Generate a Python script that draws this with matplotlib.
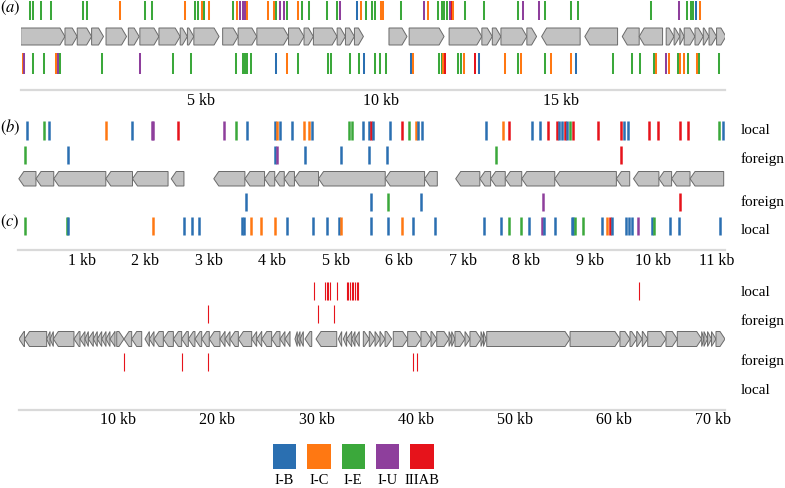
import matplotlib.pyplot as plt
from matplotlib.patches import Polygon, Rectangle

plt.rcParams['font.family'] = ['Liberation Serif', 'DejaVu Serif']
plt.rcParams['mathtext.fontset'] = 'stix'

# ---- legend / colour key ----
types = ['I-B', 'I-C', 'I-E', 'I-U', 'IIIAB']
codes = ['B', 'C', 'E', 'U', 'A']
type_colors = ['#2a6fb1', '#ff7812', '#3ba83b', '#8e3f9c', '#e6131b']
col = dict(zip(codes, type_colors))

# ---- panel (a): genes (kb), strand ----
a_gene_start = [0.00, 1.23, 1.57, 1.97, 2.37, 2.99, 3.31, 3.84, 4.43, 4.63, 4.81,
                5.61, 6.04, 6.56, 7.44, 7.87, 8.13, 8.79, 9.02, 9.27,
                10.23, 10.79, 11.90, 12.81, 13.10, 13.34, 14.06,
                14.47, 15.67, 16.71, 17.18,
                17.93, 18.15, 18.31, 18.43, 18.73, 18.96, 19.12, 19.33]
a_gene_end = [1.23, 1.57, 1.97, 2.30, 2.94, 3.29, 3.84, 4.43, 4.63, 4.81, 5.51,
              6.04, 6.56, 7.44, 7.87, 8.13, 8.79, 9.02, 9.27, 9.52,
              10.73, 11.76, 12.81, 13.10, 13.34, 14.06, 14.33,
              15.54, 16.58, 17.18, 17.83,
              18.15, 18.31, 18.43, 18.73, 18.96, 19.12, 19.33, 19.59]
a_gene_strand = [1] * 27 + [-1] * 4 + [1] * 8

# spacer hits above the genes (kb) and their subtype codes
a_top_kb = [0.25, 0.33, 0.56, 0.84, 1.72, 1.83,
            2.75, 3.44, 3.64, 4.56, 4.84, 4.92, 5.03, 5.09, 5.23, 5.91, 6.02,
            6.10, 6.17, 6.23, 6.29, 6.86, 7.04, 7.09, 7.20, 7.31, 7.40, 7.71,
            7.81, 8.01, 8.52, 8.79, 8.86, 9.33, 9.45, 9.59, 9.75, 9.84,
            10.01, 10.06, 10.57, 11.20, 11.31, 11.60, 11.69, 11.76, 11.83,
            11.93, 11.97, 12.01, 12.33, 12.87, 13.81, 13.94, 14.40,
            14.56, 15.28, 15.49, 17.51, 18.28, 18.50, 18.62, 18.68, 18.75, 18.87]
a_top_type = ("EEEEEE" "CEECEECECEC" "UUUCCCEUUEC" "EEEEUBCEEE" "CCEUCEEEE"
              "UACEEEUU" "EEEEUEEEBC")
a_bot_kb = [0.05, 0.09, 0.35, 0.66, 0.98, 1.04, 1.10,
            2.26, 3.32, 4.23, 4.74, 5.97, 6.18, 6.24, 6.29, 6.40,
            7.08, 7.41, 7.69, 8.54, 8.63, 9.15, 9.39, 9.53, 9.84, 9.98, 10.15,
            10.83, 10.90, 11.61, 11.69, 11.74, 11.79, 12.16, 12.23, 12.32,
            12.62, 12.73, 13.45, 13.80, 13.90, 14.56, 14.73, 15.28, 15.43,
            16.44, 16.97, 17.21, 17.60, 17.64, 17.93, 18.02, 18.27, 18.31, 18.43,
            18.54, 18.79, 18.83, 19.40]
a_bot_type = ("CUEECUE" "EUEEEEEEE" "BCEEEEEBEEE" "BCEECAEEC" "ABCECECCB"
              "EEEECUCECC" "ECEE")

# ---- panel (b): genes, all on the reverse strand ----
b_gene_start = [0.01, 0.28, 0.56, 1.38, 1.80, 2.41, 3.08, 3.57, 3.88, 4.04, 4.19,
                4.35, 4.73, 5.78, 6.40, 6.89, 7.27, 7.44, 7.67, 7.93, 8.45,
                9.42, 9.69, 10.09, 10.29, 10.58]
b_gene_end = [0.28, 0.56, 1.38, 1.80, 2.36, 2.61, 3.57, 3.88, 4.04, 4.19, 4.35,
              4.73, 5.78, 6.40, 6.60, 7.27, 7.44, 7.67, 7.93, 8.45, 9.42,
              9.63, 10.09, 10.29, 10.58, 11.11]

b_local_kb = [0.14, 0.40, 0.49, 1.39, 1.80, 2.10, 2.13, 2.51, 3.24, 3.43, 3.61,
              4.04, 4.08, 4.12, 4.31, 4.50, 4.58, 4.62, 5.21, 5.25, 5.43, 5.53,
              5.55, 5.58, 5.86, 6.05, 6.16, 6.26, 6.29, 6.36, 7.37, 7.63, 7.73,
              8.09, 8.22, 8.35, 8.49, 8.52, 8.56, 8.61, 8.64, 8.69, 8.74,
              9.13, 9.49, 9.54, 9.61, 9.94, 10.07, 10.42, 10.55, 11.04, 11.10]
b_local_type = ("BEBCBUUA" "UEB" "BCBBCCB" "EEBBAB" "BAECBB" "BCA"
                "BBAABBABEA" "AABBAAAA" "EB")
b_foreign_kb = [0.11, 0.79, 4.04, 4.07, 4.52, 5.09, 5.53, 5.81, 7.52, 9.49]
b_foreign_type = "EBBUBBBBEA"

# ---- panel (c), 11 kb locus below the genes ----
c_foreign_kb = [3.58, 5.55, 5.82, 6.35, 8.26, 10.42]
c_foreign_type = "BBEBUA"
c_local_kb = [0.10, 0.77, 0.79, 2.13, 2.61, 2.73, 2.85, 3.52, 3.55, 3.66, 3.82,
              4.04, 4.24, 4.65, 4.86, 5.05, 5.08, 5.55, 5.82, 6.05, 6.22, 6.57,
              7.34, 7.61, 7.73, 7.92, 8.05, 8.25, 8.28, 8.46, 8.72, 8.74, 8.77,
              8.89, 9.19, 9.28, 9.32, 9.35, 9.57, 9.62, 9.66, 9.76, 9.98, 10.01,
              10.27, 10.40, 11.05]
c_local_type = ("EEBC" "BBB" "BBCCC" "BBBBC" "BBCBB" "BBEEB" "UBBBBEE" "BCAB"
                "BBBU" "BEBBB")

# ---- panel (c), 70 kb locus (IIIAB only) ----
d_gene_start = [0.00, 0.55, 2.79, 3.13, 3.46, 5.54, 6.15, 6.65, 6.99, 7.49, 7.89,
                8.34, 8.77, 9.17, 9.85, 10.58, 11.36, 12.70, 13.14, 13.61, 14.55,
                15.56, 16.40, 17.07, 17.74, 18.42, 19.18, 20.26, 20.77, 21.27,
                22.11, 23.46, 23.96, 24.47, 25.47, 26.31, 26.81, 27.82, 28.05,
                28.33, 28.83, 29.94, 32.19, 32.69, 33.03, 33.54, 33.87,
                34.71, 35.31, 35.89, 36.39, 36.90, 37.73, 39.18, 40.52, 41.53,
                42.11, 43.35, 43.62, 43.95, 44.96, 45.46, 46.57, 46.82, 47.15,
                55.55, 60.58, 61.59, 62.27, 62.83, 63.38, 65.22, 66.36, 68.82,
                69.05, 69.41, 69.81, 70.26]
d_gene_end = [0.55, 2.79, 3.13, 3.46, 5.54, 6.15, 6.65, 6.99, 7.49, 7.89, 8.34,
              8.77, 9.17, 9.68, 10.58, 11.36, 12.37, 13.14, 13.61, 14.55, 15.56,
              16.40, 17.07, 17.74, 18.42, 19.18, 20.26, 20.77, 21.27, 22.11,
              23.46, 23.96, 24.47, 25.47, 26.31, 26.81, 27.32, 28.05, 28.33,
              28.66, 29.51, 32.03, 32.53, 33.03, 33.54, 33.87, 34.30,
              35.31, 35.89, 36.39, 36.90, 37.57, 39.18, 40.52, 41.53, 42.11,
              43.35, 43.62, 43.95, 44.96, 45.46, 46.57, 46.82, 47.08, 55.55,
              60.58, 61.59, 62.27, 62.83, 63.38, 65.22, 66.36, 68.82, 69.05,
              69.41, 69.81, 70.26, 71.17]
d_gene_strand = [-1] * 14 + [1] + [-1] * 32 + [1] * 31
d_local_kb = [29.77, 30.85, 31.02, 31.18, 31.35, 32.09, 33.03, 33.20, 33.37,
              33.54, 33.70, 33.87, 34.04, 34.20, 62.50]
d_foreign_top_kb = [19.02, 30.17, 31.75]
d_foreign_bot_kb = [10.62, 16.46, 19.02, 39.75, 40.09]

W, H = 785, 488
fig = plt.figure(figsize=(W / 100, H / 100), dpi=100)


def panel(left_px, top_px, bottom_px, px_per_kb, ticks):
    right_px = 725
    ax = fig.add_axes([left_px / W, 1 - bottom_px / H,
                       (right_px - left_px) / W, (bottom_px - top_px) / H])
    ax.set_xlim(0, (right_px - left_px) / px_per_kb)
    ax.set_ylim(bottom_px, top_px)
    for s in ['top', 'left', 'right']:
        ax.spines[s].set_visible(False)
    ax.spines['bottom'].set_color('#d9d9d9')
    ax.spines['bottom'].set_linewidth(1.6)
    ax.set_yticks([])
    ax.set_xticks(ticks)
    ax.set_xticklabels(['%d kb' % t for t in ticks])
    ax.tick_params(axis='x', length=0, pad=2, labelsize=11.5)
    ax.patch.set_alpha(0)
    return ax


def genes(ax, starts, ends, strands, y0, y1, head):
    yc = (y0 + y1) / 2
    for x0, x1, s in zip(starts, ends, strands):
        hl = min(head, x1 - x0)
        if s > 0:
            pts = [(x0, y0), (x1 - hl, y0), (x1, yc), (x1 - hl, y1), (x0, y1)]
        else:
            pts = [(x1, y0), (x0 + hl, y0), (x0, yc), (x0 + hl, y1), (x1, y1)]
        ax.add_patch(Polygon(pts, closed=True, facecolor='#c2c2c2',
                             edgecolor='#6a6a6a', linewidth=0.7))


def hits(ax, xs, kinds, y0, y1, lw):
    ax.vlines(xs, y0, y1, colors=[col[k] for k in kinds], linewidth=lw)


# (a)
ax_a = panel(20.7, 0, 90, 36.0, [5, 10, 15])
genes(ax_a, a_gene_start, a_gene_end, a_gene_strand, 28, 45, 5 / 36.0)
hits(ax_a, a_top_kb, a_top_type, 1, 20, 1.45)
hits(ax_a, a_bot_kb, a_bot_type, 53, 74, 1.45)

# (b) / (c) 11 kb
ax_b = panel(18.2, 115, 250, 63.5, list(range(1, 12)))
genes(ax_b, b_gene_start, b_gene_end, [-1] * len(b_gene_start), 171.5, 186, 5 / 63.5)
hits(ax_b, b_local_kb, b_local_type, 121.5, 140, 1.8)
hits(ax_b, b_foreign_kb, b_foreign_type, 146, 164, 1.8)
hits(ax_b, c_foreign_kb, c_foreign_type, 193.5, 211.5, 1.8)
hits(ax_b, c_local_kb, c_local_type, 217, 235, 1.8)

# (c) 70 kb
ax_c = panel(19.0, 270, 409.5, 9.92, [10, 20, 30, 40, 50, 60, 70])
genes(ax_c, d_gene_start, d_gene_end, d_gene_strand, 331.5, 346.5, 5 / 9.92)
red = col['A']
ax_c.vlines(d_local_kb, 282, 300, colors=red, linewidth=0.8)
ax_c.vlines(d_foreign_top_kb, 305, 323, colors=red, linewidth=0.8)
ax_c.vlines(d_foreign_bot_kb, 353, 371, colors=red, linewidth=0.8)

# overlay for labels and colour key
ov = fig.add_axes([0, 0, 1, 1])
ov.set_xlim(0, W)
ov.set_ylim(H, 0)
ov.axis('off')
ov.patch.set_alpha(0)

for txt, y in [('$(a)$', 8), ('$(b)$', 127), ('$(c)$', 222)]:
    ov.text(0, y, txt, fontsize=12, ha='left', va='center')

for txt, y in [('local', 131), ('foreign', 159), ('foreign', 202), ('local', 230),
               ('local', 292), ('foreign', 321), ('foreign', 361), ('local', 390)]:
    ov.text(741, y, txt, fontsize=11, ha='left', va='center')

for i, (name, c) in enumerate(zip(types, type_colors)):
    x0 = 273 + i * 34.3
    ov.add_patch(Rectangle((x0, 443.5), 23.3, 25, facecolor=c, edgecolor='none'))
    ov.text(x0 + 11.6, 480, name, fontsize=10.5, ha='center', va='center')

fig.savefig('out.png', dpi=100)
